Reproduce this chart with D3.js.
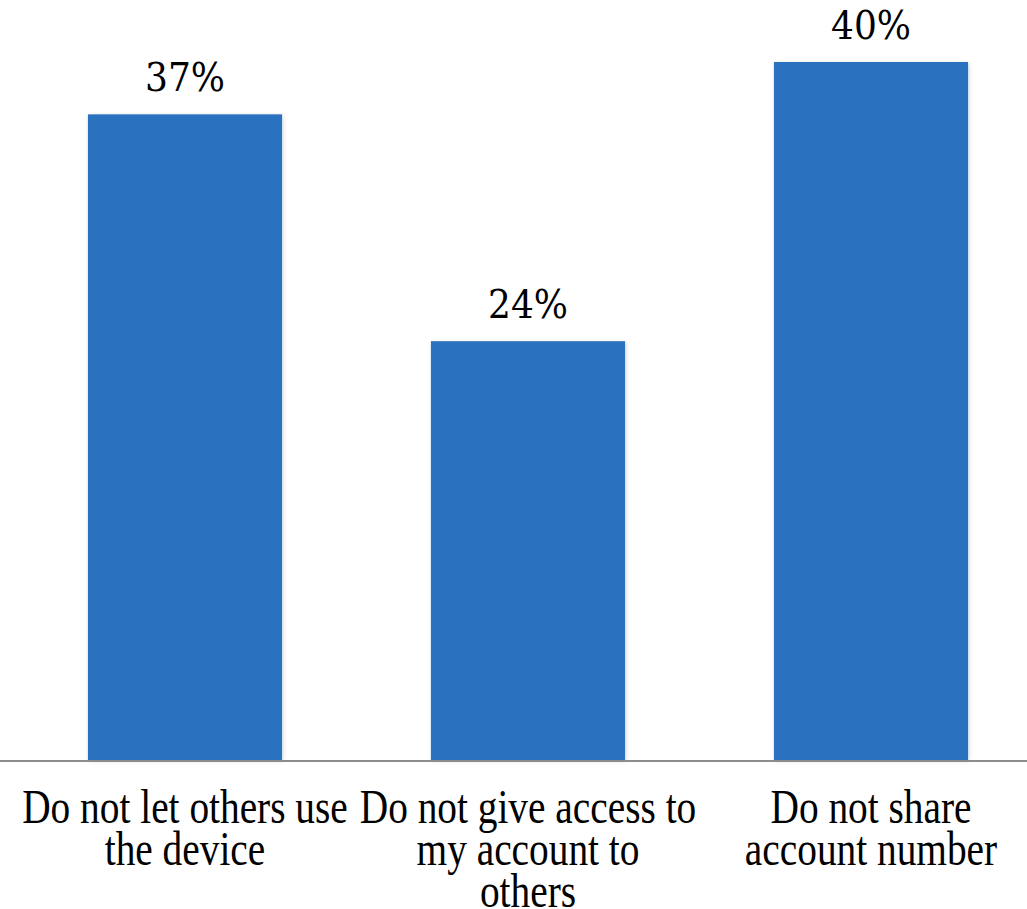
<!DOCTYPE html>
<html>
<head>
<meta charset="utf-8">
<script src="https://cdn.jsdelivr.net/npm/d3@7"></script>
<style>
  body { margin: 0; background: #fff; }
  svg { display: block; }
  .val { font-family: "DejaVu Serif", serif; }
  .cat { font-family: "Liberation Serif", serif; }
</style>
</head>
<body>
<svg></svg>
<script>
// data
var categories = ["Do not let others use the device", "Do not give access to my account to others", "Do not share account number"];
var values = [37, 24, 40];
var tickLines = [
    ["Do not let others use", "the device"],
    ["Do not give access to", "my account to", "others"],
    ["Do not share", "account number"]
];

var svg = d3.select("svg").attr("width", 1027).attr("height", 909),
    baseY = 760;

var x = d3.scaleBand()
    .domain(categories)
    .range([13.5, 13.5 + 3 * 343])
    .paddingInner(0.434)
    .paddingOuter(0.217);

var y = d3.scaleLinear().domain([0, 40]).range([baseY, 62]);

// soft shadow round the bars
var defs = svg.append("defs");
var f = defs.append("filter").attr("id", "shadow")
    .attr("x", "-10%").attr("y", "-10%").attr("width", "120%").attr("height", "120%");
f.append("feDropShadow")
    .attr("dx", 1).attr("dy", 1).attr("stdDeviation", 2)
    .attr("flood-color", "#000").attr("flood-opacity", 0.16);

svg.selectAll(".bar")
    .data(values)
    .enter().append("rect")
    .attr("class", "bar")
    .attr("x", function(d, i) { return x(categories[i]); })
    .attr("y", function(d) { return y(d); })
    .attr("width", x.bandwidth())
    .attr("height", function(d) { return baseY - y(d); })
    .attr("fill", "#2B71C0")
    .attr("filter", "url(#shadow)");

// baseline
svg.append("line")
    .attr("x1", 0).attr("x2", 1027)
    .attr("y1", baseY + 1).attr("y2", baseY + 1)
    .attr("stroke", "#8c8c8c")
    .attr("stroke-width", 2);

// value labels (text is a bit narrow in the original, so squeeze it)
svg.selectAll(".val")
    .data(values)
    .enter().append("g")
    .attr("transform", function(d, i) {
        return "translate(" + (x(categories[i]) + x.bandwidth() / 2) + "," + (y(d) - 23) + ") scale(0.9,1)";
    })
    .append("text")
    .attr("class", "val")
    .attr("text-anchor", "middle")
    .attr("font-size", 40)
    .attr("fill", "#000")
    .text(function(d) { return d + "%"; });

// category labels
var cat = svg.selectAll(".cat")
    .data(tickLines)
    .enter().append("g")
    .attr("transform", function(d, i) {
        return "translate(" + (x(categories[i]) + x.bandwidth() / 2) + "," + (baseY + 63) + ") scale(0.82,1)";
    })
    .append("text")
    .attr("class", "cat")
    .attr("text-anchor", "middle")
    .attr("font-size", 48)
    .attr("fill", "#000");

cat.selectAll("tspan")
    .data(function(d) { return d; })
    .enter().append("tspan")
    .attr("x", 0)
    .attr("y", function(d, j) { return j * 42; })
    .text(function(d) { return d; });
</script>
</body>
</html>
